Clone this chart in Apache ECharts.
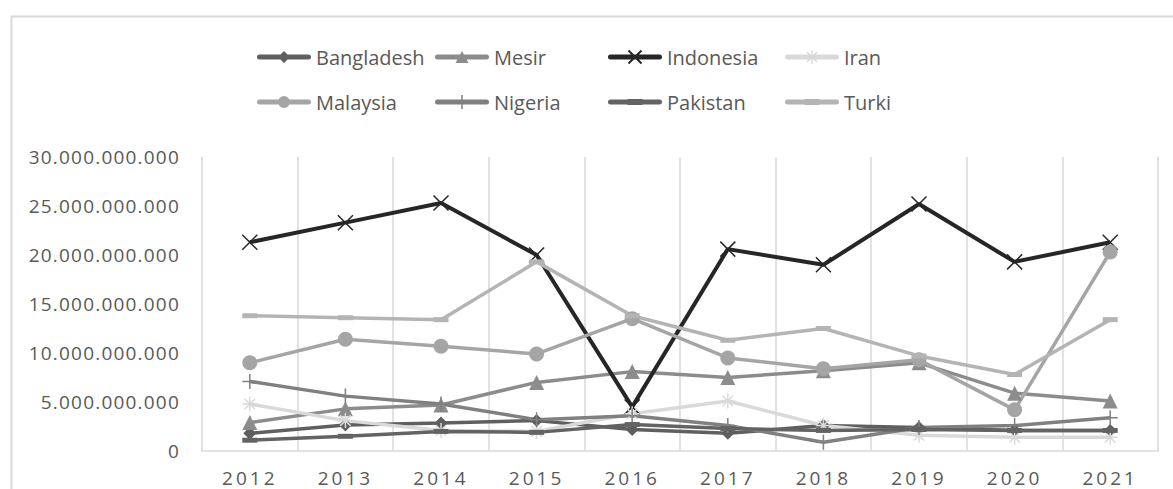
<!DOCTYPE html>
<html>
<head>
<meta charset="utf-8">
<script src="https://cdn.jsdelivr.net/npm/echarts@6/dist/echarts.min.js"></script>
<style>
  html, body { margin: 0; padding: 0; background: #fff; }
  #chart { width: 1173px; height: 489px; }
  /* label sumbu di gambar asli agak renggang */
  #chart text[text-anchor="middle"] { letter-spacing: 3px; }
  #chart text[text-anchor="end"] { letter-spacing: 1.2px; }
</style>
</head>
<body>
<div id="chart"></div>
<script>
const years = ['2012', '2013', '2014', '2015', '2016', '2017', '2018', '2019', '2020', '2021'];
const countries = ['Bangladesh', 'Mesir', 'Indonesia', 'Iran', 'Malaysia', 'Nigeria', 'Pakistan', 'Turki'];

// nilai (dalam miliar)
const bangladesh = [1.8, 2.65, 2.85, 3.1, 2.2, 1.8, 2.6, 2.4, 2.1, 2.1];
const mesir = [2.9, 4.3, 4.7, 7.0, 8.1, 7.5, 8.2, 9.0, 5.9, 5.1];
const indonesia = [21.3, 23.3, 25.3, 20.0, 4.5, 20.6, 19.0, 25.2, 19.3, 21.3];
const iran = [4.8, 3.1, 2.1, 2.0, 3.8, 5.1, 2.6, 1.6, 1.4, 1.4];
const malaysia = [9.0, 11.4, 10.7, 9.9, 13.5, 9.5, 8.4, 9.3, 4.2, 20.3];
const nigeria = [7.1, 5.6, 4.8, 3.2, 3.6, 2.6, 0.9, 2.4, 2.6, 3.4];
const pakistan = [1.1, 1.5, 2.0, 1.9, 2.7, 2.3, 2.1, 2.2, 2.1, 2.1];
const turki = [13.8, 13.6, 13.4, 19.3, 13.8, 11.3, 12.5, 9.7, 7.8, 13.4];

const yTicks = { min: 0, max: 30e9, step: 5e9 };

const FONT = '"Open Sans", "Noto Sans", sans-serif';
const TXT = '#595959';
const GRID = '#d9d9d9';

const X_MARK = 'path://M0,0L10,10M10,0L0,10';
const STAR_MARK = 'path://M5,0L5,10M0,5L10,5M1.5,1.5L8.5,8.5M8.5,1.5L1.5,8.5';
const PLUS_MARK = 'path://M5,0L5,10M0,5L10,5';

// ikon legend: garis tebal + penanda, kotak 54x15
const BAR = 'M2.5,5L51.5,5A2.5,2.5 0 0 1 51.5,10L2.5,10A2.5,2.5 0 0 1 2.5,5Z';
const legendMarks = {
    Bangladesh: 'M27,1.5L33,7.5L27,13.5L21,7.5Z',
    Mesir: 'M27,1.5L33.5,13.5L20.5,13.5Z',
    Indonesia: 'M21.2,0.3L34.2,13.3L32.8,14.7L19.8,1.7ZM32.8,0.3L34.2,1.7L21.2,14.7L19.8,13.3Z',
    Iran: 'M26.3,0.5h1.4v14h-1.4ZM22.5,2L32.5,12L31.5,13L21.5,3ZM31.5,2L32.5,3L22.5,13L21.5,12Z',
    Malaysia: 'M21,7.5A6,6 0 1 1 33,7.5A6,6 0 1 1 21,7.5Z',
    Nigeria: 'M26.25,0.5h1.5v14h-1.5Z',
    Pakistan: 'M19.5,4.5h15v6h-15Z',
    Turki: 'M19.5,4.5h15v6h-15Z'
};

const styles = {
    Bangladesh: { color: '#5f5f5f', symbol: 'diamond', size: 13 },
    Mesir: { color: '#8c8c8c', symbol: 'triangle', size: 15 },
    Indonesia: { color: '#262626', symbol: X_MARK, size: 15, stroke: 1.5 },
    Iran: { color: '#d9d9d9', symbol: STAR_MARK, size: 15, stroke: 1.5 },
    Malaysia: { color: '#a5a5a5', symbol: 'circle', size: 15 },
    Nigeria: { color: '#808080', symbol: PLUS_MARK, size: 15, stroke: 1.5 },
    Pakistan: { color: '#636363', symbol: 'rect', size: [15, 5] },
    Turki: { color: '#b4b4b4', symbol: 'rect', size: [15, 5] }
};

const values = {
    Bangladesh: bangladesh, Mesir: mesir, Indonesia: indonesia, Iran: iran,
    Malaysia: malaysia, Nigeria: nigeria, Pakistan: pakistan, Turki: turki
};

// posisi legend: kolom & baris seperti di gambar
const legendCols = [252, 430, 603, 780];
const legendRows = [42, 87];

const fmtNum = v => String(v).replace(/\B(?=(\d{3})+(?!\d))/g, '.');

const series = countries.map(name => {
    const s = styles[name];
    return {
        name: name,
        type: 'line',
        data: values[name].map(v => Math.round(v * 1e9)),
        symbol: s.symbol,
        symbolSize: s.size,
        showAllSymbol: true,
        lineStyle: { color: s.color, width: name === 'Indonesia' ? 4 : 3.5 },
        itemStyle: { color: s.color, borderColor: s.color, borderWidth: s.stroke || 0 },
        emphasis: { disabled: true },
        animation: false
    };
});

const legends = countries.map((name, i) => ({
    data: [{ name: name, icon: 'path://' + BAR + legendMarks[name] }],
    left: legendCols[i % 4],
    top: legendRows[Math.floor(i / 4)],
    itemWidth: 54,
    itemHeight: 15,
    itemGap: 0,
    symbolKeepAspect: true,
    itemStyle: { borderWidth: 0 },
    textStyle: { color: TXT, fontSize: 20, fontFamily: FONT },
    selectedMode: false
}));

const chart = echarts.init(document.getElementById('chart'), null, { renderer: 'svg' });
chart.setOption({
    backgroundColor: '#fff',
    animation: false,
    graphic: [{
        type: 'rect', left: 9, top: 14, silent: true,
        shape: { width: 1200, height: 600 },
        style: { fill: 'none', stroke: GRID, lineWidth: 2 }
    }],
    legend: legends,
    grid: { left: 202, right: 15, top: 157, bottom: 38 },
    xAxis: {
        type: 'category',
        data: years,
        boundaryGap: true,
        axisTick: { show: false },
        axisLine: { lineStyle: { color: GRID, width: 1.5 } },
        splitLine: { show: true, lineStyle: { color: GRID, width: 1.5 } },
        axisLabel: { color: TXT, fontSize: 19, fontFamily: FONT, margin: 17 }
    },
    yAxis: {
        type: 'value',
        min: yTicks.min, max: yTicks.max, interval: yTicks.step,
        axisLine: { show: false },
        axisTick: { show: false },
        splitLine: { show: false },
        axisLabel: { color: TXT, fontSize: 19, fontFamily: FONT, margin: 22, formatter: fmtNum }
    },
    series: series
});
</script>
</body>
</html>
